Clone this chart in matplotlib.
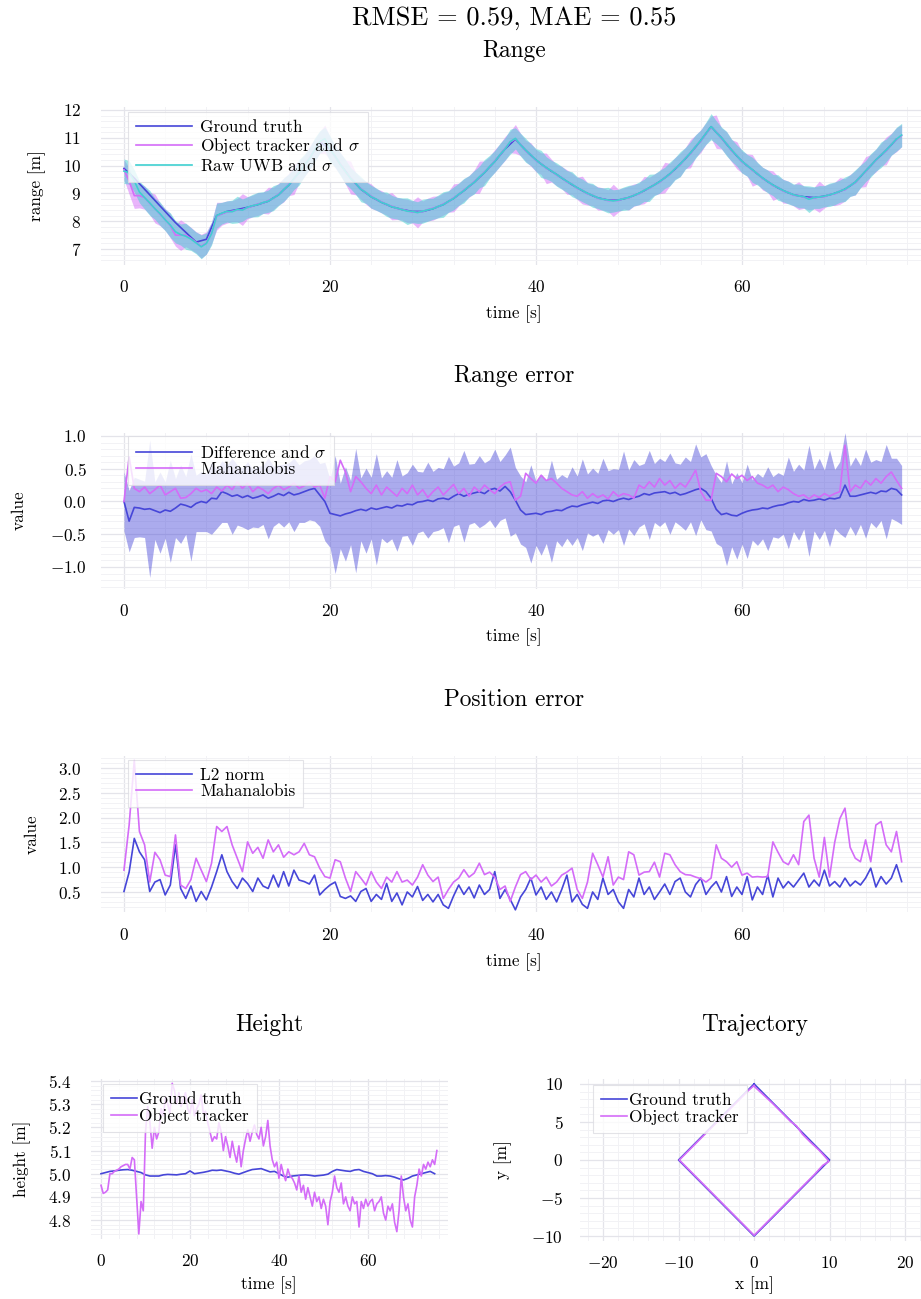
import numpy as np
import matplotlib
matplotlib.use('Agg')
import matplotlib.pyplot as plt
from matplotlib.ticker import MultipleLocator, AutoMinorLocator

plt.rcParams['font.family'] = 'cmr10'
plt.rcParams['mathtext.fontset'] = 'cm'
plt.rcParams['axes.formatter.use_mathtext'] = True

# ---------------- data ----------------
t_half = np.arange(152) * 0.5      # 0 .. 75.5 s, 0.5 s samples
t_one = np.arange(76) * 1.0        # 0 .. 75 s, 1 s samples

gt_range = [9.90, 9.55, 9.15, 8.75, 8.35, 7.95, 7.60, 7.25, 7.35, 8.20,
            8.35, 8.42, 8.50, 8.60, 8.72, 8.95, 9.30, 9.75, 10.25, 10.85,
            10.60, 10.05, 9.55, 9.15, 8.88, 8.68, 8.52, 8.42, 8.35, 8.35,
            8.45, 8.60, 8.82, 9.10, 9.40, 9.75, 10.15, 10.60, 10.95, 10.55,
            10.20, 9.92, 9.68, 9.43, 9.20, 9.00, 8.84, 8.76, 8.76, 8.85,
            9.00, 9.20, 9.42, 9.70, 10.05, 10.45, 10.90, 11.40, 11.00, 10.55,
            10.15, 9.85, 9.55, 9.30, 9.10, 8.95, 8.88, 8.85, 8.90, 9.00,
            9.15, 9.40, 9.80, 10.20, 10.55, 10.95]

uwb_range = [9.80, 9.75, 9.45, 9.05, 8.85, 8.66, 8.45, 8.27, 8.05, 7.86,
             7.62, 7.52, 7.46, 7.36, 7.22, 7.08, 7.20, 7.55, 8.20, 8.29,
             8.35, 8.34, 8.42, 8.40, 8.50, 8.56, 8.60, 8.67, 8.72, 8.83,
             8.95, 9.13, 9.30, 9.52, 9.76, 10.00, 10.25, 10.56, 10.85, 10.97,
             10.60, 10.33, 10.05, 9.78, 9.55, 9.36, 9.15, 9.03, 8.88, 8.79,
             8.68, 8.61, 8.52, 8.47, 8.42, 8.36, 8.35, 8.31, 8.36, 8.41,
             8.45, 8.53, 8.60, 8.71, 8.82, 8.97, 9.10, 9.26, 9.40, 9.59,
             9.75, 9.96, 10.15, 10.39, 10.60, 10.86, 10.98, 10.75, 10.55, 10.39,
             10.20, 10.06, 9.92, 9.81, 9.68, 9.56, 9.43, 9.33, 9.20, 9.11,
             9.00, 8.93, 8.84, 8.79, 8.76, 8.73, 8.76, 8.81, 8.85, 8.93,
             9.00, 9.11, 9.20, 9.31, 9.42, 9.56, 9.70, 9.89, 10.05, 10.26,
             10.45, 10.69, 10.90, 11.16, 11.40, 11.20, 11.00, 10.79, 10.55, 10.36,
             10.15, 10.01, 9.85, 9.71, 9.55, 9.43, 9.30, 9.21, 9.10, 9.03,
             8.95, 8.91, 8.88, 8.79, 8.85, 8.87, 8.90, 8.95, 9.00, 9.08,
             9.15, 9.28, 9.40, 9.61, 9.80, 10.01, 10.20, 10.39, 10.55, 10.76,
             10.95, 11.10]

uwb_sigma = [0.44, 0.42, 0.40, 0.39, 0.41, 0.45, 0.38, 0.42, 0.39, 0.44,
             0.40, 0.38, 0.47, 0.41, 0.39, 0.43, 0.38, 0.41, 0.45, 0.39,
             0.38, 0.42, 0.48, 0.40, 0.38, 0.41, 0.44, 0.39, 0.40, 0.45,
             0.39, 0.42, 0.40, 0.38, 0.46, 0.40, 0.39, 0.43, 0.40, 0.41,
             0.47, 0.39, 0.41, 0.44, 0.38, 0.40, 0.45, 0.39, 0.41, 0.40,
             0.38, 0.44, 0.41, 0.39, 0.42, 0.48, 0.40, 0.39, 0.43, 0.41,
             0.38, 0.41, 0.46, 0.39, 0.41, 0.40, 0.44, 0.38, 0.42, 0.39,
             0.47, 0.41, 0.39, 0.41, 0.40, 0.45, 0.38, 0.41, 0.43, 0.39,
             0.41, 0.49, 0.40, 0.38, 0.42, 0.41, 0.39, 0.45, 0.40, 0.41,
             0.39, 0.43, 0.38, 0.41, 0.46, 0.40, 0.39, 0.42, 0.44, 0.38,
             0.41, 0.40, 0.49, 0.39, 0.41, 0.38, 0.43, 0.40, 0.45, 0.39,
             0.41, 0.42, 0.38, 0.40, 0.47, 0.41, 0.39, 0.44, 0.40, 0.38,
             0.42, 0.39, 0.45, 0.41, 0.39, 0.41, 0.38, 0.46, 0.40, 0.41,
             0.39, 0.43, 0.40, 0.48, 0.39, 0.41, 0.38, 0.42, 0.41, 0.40,
             0.44, 0.39, 0.45, 0.41, 0.38, 0.42, 0.40, 0.46, 0.41, 0.39,
             0.43, 0.42]

trk_range = [9.85, 9.45, 8.92, 8.92, 8.85, 8.64, 8.46, 8.25, 8.06, 7.84,
             7.50, 7.50, 7.50, 7.38, 7.24, 7.10, 7.22, 7.58, 8.18, 8.27,
             8.33, 8.36, 8.40, 8.42, 8.48, 8.55, 8.62, 8.66, 8.74, 8.82,
             8.97, 9.12, 9.32, 9.50, 9.78, 9.98, 10.27, 10.55, 10.83, 10.95,
             10.62, 10.31, 10.07, 9.77, 9.57, 9.35, 9.17, 9.02, 8.90, 8.78,
             8.70, 8.60, 8.54, 8.46, 8.43, 8.37, 8.33, 8.32, 8.35, 8.42,
             8.47, 8.52, 8.62, 8.70, 8.84, 8.96, 9.12, 9.25, 9.42, 9.58,
             9.77, 9.95, 10.17, 10.38, 10.62, 10.85, 10.96, 10.76, 10.53, 10.40,
             10.18, 10.07, 9.90, 9.82, 9.66, 9.57, 9.41, 9.34, 9.18, 9.12,
             8.98, 8.94, 8.82, 8.80, 8.74, 8.75, 8.74, 8.82, 8.83, 8.94,
             8.98, 9.12, 9.18, 9.32, 9.40, 9.57, 9.68, 9.90, 10.03, 10.27,
             10.43, 10.70, 10.88, 11.15, 11.38, 11.22, 10.98, 10.80, 10.53, 10.37,
             10.13, 10.02, 9.83, 9.72, 9.53, 9.44, 9.28, 9.22, 9.08, 9.04,
             8.93, 8.92, 8.86, 8.82, 8.83, 8.88, 8.88, 8.96, 8.98, 9.09,
             9.13, 9.29, 9.38, 9.62, 9.78, 10.02, 10.18, 10.40, 10.53, 10.77,
             10.93, 11.08]

trk_sigma = [0.36, 0.48, 0.46, 0.44, 0.42, 0.40, 0.52, 0.41, 0.39, 0.44,
             0.40, 0.55, 0.42, 0.40, 0.38, 0.43, 0.40, 0.39, 0.50, 0.41,
             0.40, 0.38, 0.42, 0.57, 0.40, 0.39, 0.41, 0.38, 0.48, 0.40,
             0.39, 0.43, 0.40, 0.54, 0.40, 0.38, 0.42, 0.40, 0.39, 0.51,
             0.41, 0.39, 0.40, 0.43, 0.59, 0.40, 0.38, 0.41, 0.44, 0.39,
             0.40, 0.38, 0.49, 0.40, 0.39, 0.42, 0.40, 0.56, 0.38, 0.41,
             0.43, 0.39, 0.40, 0.38, 0.50, 0.41, 0.40, 0.39, 0.42, 0.58,
             0.40, 0.38, 0.41, 0.40, 0.43, 0.39, 0.52, 0.40, 0.38, 0.42,
             0.40, 0.39, 0.55, 0.41, 0.38, 0.40, 0.44, 0.39, 0.40, 0.50,
             0.40, 0.38, 0.42, 0.40, 0.39, 0.58, 0.41, 0.38, 0.43, 0.40,
             0.39, 0.49, 0.40, 0.38, 0.41, 0.55, 0.40, 0.39, 0.42, 0.38,
             0.51, 0.40, 0.41, 0.39, 0.40, 0.60, 0.38, 0.42, 0.40, 0.49,
             0.39, 0.40, 0.57, 0.38, 0.41, 0.40, 0.53, 0.39, 0.43, 0.40,
             0.38, 0.50, 0.40, 0.41, 0.39, 0.56, 0.40, 0.38, 0.42, 0.48,
             0.40, 0.39, 0.44, 0.40, 0.54, 0.38, 0.41, 0.40, 0.50, 0.39,
             0.43, 0.40]

range_diff = [0.00, -0.30, -0.09, -0.10, -0.12, -0.11, -0.14, -0.17, -0.13, -0.15,
              -0.10, -0.04, -0.06, -0.09, -0.03, 0.00, -0.02, 0.05, 0.04, 0.15,
              0.12, 0.08, 0.10, 0.06, 0.09, 0.05, 0.07, 0.10, 0.05, 0.08,
              0.12, 0.09, 0.14, 0.10, 0.12, 0.15, 0.18, 0.20, 0.10, 0.00,
              -0.18, -0.20, -0.22, -0.19, -0.17, -0.14, -0.12, -0.14, -0.10, -0.12,
              -0.10, -0.08, -0.10, -0.06, -0.07, -0.04, -0.05, -0.01, 0.00, 0.02,
              0.00, 0.04, 0.05, 0.03, 0.08, 0.12, 0.08, 0.11, 0.13, 0.15,
              0.12, 0.18, 0.20, 0.16, 0.23, 0.15, 0.02, -0.13, -0.20, -0.19,
              -0.18, -0.20, -0.16, -0.15, -0.13, -0.14, -0.10, -0.07, -0.08, -0.05,
              -0.03, -0.01, -0.03, 0.01, 0.02, 0.00, 0.03, 0.05, 0.03, 0.06,
              0.08, 0.12, 0.10, 0.13, 0.14, 0.15, 0.12, 0.14, 0.10, 0.12,
              0.15, 0.18, 0.20, 0.15, 0.05, -0.12, -0.20, -0.18, -0.21, -0.22,
              -0.18, -0.15, -0.13, -0.12, -0.10, -0.11, -0.08, -0.06, -0.05, -0.02,
              0.00, -0.01, 0.03, 0.01, 0.02, 0.04, 0.02, 0.05, 0.04, 0.06,
              0.25, 0.08, 0.08, 0.10, 0.12, 0.14, 0.12, 0.16, 0.15, 0.20,
              0.18, 0.10]

diff_sigma = [0.45, 0.47, 0.46, 0.44, 0.43, 1.05, 0.44, 0.62, 0.43, 0.78,
              0.45, 0.60, 0.44, 0.82, 0.43, 0.46, 0.44, 0.55, 0.45, 0.47,
              0.44, 0.58, 0.46, 0.45, 0.52, 0.44, 0.47, 0.45, 0.62, 0.46,
              0.44, 0.48, 0.45, 0.56, 0.44, 0.47, 0.46, 0.50, 0.48, 0.60,
              0.52, 0.90, 0.50, 0.72, 0.49, 0.95, 0.48, 0.65, 0.47, 0.85,
              0.46, 0.55, 0.47, 0.70, 0.46, 0.48, 0.62, 0.47, 0.45, 0.58,
              0.46, 0.48, 0.45, 0.66, 0.46, 0.47, 0.70, 0.46, 0.45, 0.55,
              0.47, 0.46, 0.60, 0.45, 0.48, 0.68, 0.50, 0.52, 0.50, 0.75,
              0.49, 0.62, 0.48, 0.78, 0.47, 0.55, 0.46, 0.60, 0.47, 0.70,
              0.45, 0.52, 0.46, 0.65, 0.45, 0.50, 0.46, 0.72, 0.45, 0.58,
              0.47, 0.46, 0.68, 0.45, 0.52, 0.46, 0.62, 0.45, 0.47, 0.56,
              0.46, 0.70, 0.48, 0.58, 0.50, 0.52, 0.49, 0.80, 0.48, 0.66,
              0.47, 0.72, 0.46, 0.55, 0.47, 0.64, 0.46, 0.50, 0.45, 0.70,
              0.46, 0.58, 0.45, 0.85, 0.47, 0.62, 0.46, 0.74, 0.45, 0.55,
              0.80, 0.46, 0.60, 0.45, 0.68, 0.46, 0.52, 0.45, 0.72, 0.46,
              0.48, 0.45]

range_mahal = [0.00, 0.68, 0.20, 0.15, 0.22, 0.12, 0.18, 0.25, 0.10, 0.15,
               0.20, 0.05, 0.06, 0.12, 0.20, 0.15, 0.18, 0.12, 0.22, 0.16,
               0.25, 0.18, 0.30, 0.20, 0.28, 0.15, 0.22, 0.18, 0.12, 0.20,
               0.25, 0.18, 0.22, 0.28, 0.20, 0.24, 0.30, 0.22, 0.25, 0.05,
               0.38, 0.30, 0.63, 0.45, 0.15, 0.38, 0.30, 0.20, 0.12, 0.25,
               0.10, 0.22, 0.15, 0.08, 0.20, 0.12, 0.25, 0.10, 0.18, 0.06,
               0.15, 0.22, 0.10, 0.18, 0.26, 0.12, 0.20, 0.08, 0.22, 0.15,
               0.25, 0.18, 0.12, 0.22, 0.28, 0.30, 0.02, 0.08, 0.43, 0.35,
               0.28, 0.40, 0.32, 0.35, 0.28, 0.20, 0.15, 0.10, 0.08, 0.15,
               0.05, 0.12, 0.06, 0.10, 0.04, 0.15, 0.08, 0.12, 0.10, 0.05,
               0.25, 0.20, 0.30, 0.22, 0.35, 0.25, 0.32, 0.20, 0.28, 0.22,
               0.34, 0.48, 0.15, 0.02, 0.02, 0.43, 0.38, 0.30, 0.42, 0.35,
               0.40, 0.32, 0.38, 0.28, 0.25, 0.20, 0.25, 0.15, 0.22, 0.18,
               0.12, 0.08, 0.10, 0.04, 0.10, 0.06, 0.12, 0.08, 0.12, 0.15,
               0.86, 0.15, 0.25, 0.20, 0.32, 0.25, 0.35, 0.28, 0.38, 0.45,
               0.32, 0.20]

pos_l2 = [0.51, 0.90, 1.58, 1.31, 1.15, 0.51, 0.70, 0.75, 0.44, 0.64,
          1.45, 0.57, 0.37, 0.62, 0.31, 0.51, 0.34, 0.60, 0.91, 1.25,
          0.91, 0.71, 0.57, 0.78, 0.67, 0.51, 0.78, 0.62, 0.57, 0.84,
          0.60, 0.91, 0.62, 0.94, 0.74, 0.71, 0.66, 0.84, 0.44, 0.55,
          0.64, 0.70, 0.41, 0.37, 0.42, 0.31, 0.51, 0.57, 0.31, 0.45,
          0.35, 0.67, 0.31, 0.48, 0.24, 0.50, 0.40, 0.61, 0.33, 0.45,
          0.30, 0.45, 0.24, 0.17, 0.42, 0.64, 0.45, 0.60, 0.38, 0.64,
          0.45, 0.55, 0.91, 0.37, 0.55, 0.35, 0.14, 0.40, 0.55, 0.78,
          0.44, 0.60, 0.35, 0.50, 0.30, 0.55, 0.84, 0.30, 0.45, 0.25,
          0.17, 0.50, 0.35, 0.78, 0.45, 0.55, 0.30, 0.17, 0.55, 0.40,
          0.78, 0.45, 0.60, 0.35, 0.50, 0.66, 0.45, 0.71, 0.78, 0.50,
          0.40, 0.65, 0.78, 0.45, 0.60, 0.71, 0.50, 0.81, 0.41, 0.60,
          0.45, 0.81, 0.34, 0.60, 0.45, 0.84, 0.40, 0.78, 0.58, 0.71,
          0.60, 0.74, 0.88, 0.60, 0.74, 0.62, 0.94, 0.62, 0.71, 0.60,
          0.78, 0.62, 0.72, 0.64, 0.78, 0.98, 0.60, 0.81, 0.66, 0.78,
          1.05, 0.71]

pos_mahal = [0.94, 1.85, 3.15, 1.72, 1.45, 0.70, 1.30, 1.15, 0.84, 0.81,
             1.65, 0.64, 0.57, 0.75, 1.18, 0.94, 0.71, 1.08, 1.82, 1.72,
             1.82, 1.45, 1.18, 0.91, 1.51, 1.28, 1.40, 1.18, 1.55, 1.31,
             1.45, 1.20, 1.31, 1.25, 1.31, 1.48, 1.25, 1.21, 0.98, 0.81,
             0.78, 1.15, 1.11, 0.78, 0.51, 0.91, 0.78, 0.64, 0.91, 0.70,
             0.57, 0.80, 0.70, 0.91, 0.70, 0.74, 0.64, 0.80, 1.05, 0.84,
             0.71, 0.80, 0.37, 0.55, 0.70, 0.78, 0.95, 0.80, 0.88, 1.08,
             0.85, 0.90, 0.80, 0.55, 0.62, 0.31, 0.60, 0.85, 0.91, 0.75,
             0.84, 0.70, 0.80, 0.62, 0.70, 0.84, 0.90, 0.98, 0.55, 0.37,
             0.70, 1.28, 1.05, 0.80, 1.21, 0.64, 0.80, 0.75, 1.31, 1.25,
             0.84, 0.90, 0.91, 1.10, 0.80, 1.28, 1.25, 1.05, 0.91, 0.85,
             0.84, 0.80, 0.77, 0.70, 0.78, 1.45, 1.18, 1.11, 1.00, 1.11,
             0.84, 0.88, 0.80, 0.81, 0.80, 0.81, 1.51, 1.30, 1.11, 1.05,
             1.25, 1.05, 1.92, 2.05, 1.18, 0.80, 1.60, 0.80, 1.50, 1.98,
             2.19, 1.40, 1.18, 1.11, 1.55, 1.11, 1.85, 1.92, 1.45, 1.31,
             1.72, 1.11]

gt_height = [5.000, 5.005, 5.010, 5.012, 5.015, 5.017, 5.018, 5.015, 5.010, 5.005,
             4.995, 4.990, 4.990, 4.990, 4.995, 4.997, 4.996, 4.995, 4.998, 5.000,
             5.012, 5.000, 5.003, 5.006, 5.010, 5.015, 5.014, 5.016, 5.012, 5.008,
             5.002, 4.998, 5.005, 5.012, 5.018, 5.020, 5.022, 5.015, 5.008, 5.010,
             5.000, 4.990, 4.985, 4.990, 4.992, 4.994, 4.995, 4.993, 4.990, 4.992,
             4.994, 4.998, 5.010, 5.018, 5.015, 5.012, 5.010, 5.016, 5.018, 5.010,
             5.005, 5.000, 4.990, 4.990, 4.992, 4.990, 4.985, 4.978, 4.973, 4.980,
             4.990, 4.995, 5.000, 5.005, 5.010, 5.000]

trk_height = [4.95, 4.915, 4.92, 4.93, 5.00, 5.00, 5.01, 5.015, 5.02, 5.03,
              5.035, 5.04, 5.04, 5.02, 5.07, 5.06, 4.90, 4.74, 4.88, 4.84,
              5.18, 5.29, 5.22, 5.11, 5.20, 5.15, 5.18, 5.28, 5.25, 5.33,
              5.30, 5.26, 5.39, 5.36, 5.30, 5.35, 5.29, 5.32, 5.35, 5.28,
              5.26, 5.32, 5.25, 5.28, 5.30, 5.34, 5.26, 5.27, 5.22, 5.18,
              5.14, 5.16, 5.15, 5.22, 5.18, 5.10, 5.16, 5.12, 5.07, 5.14,
              5.09, 5.05, 5.12, 5.03, 5.10, 5.15, 5.19, 5.14, 5.18, 5.21,
              5.17, 5.15, 5.20, 5.12, 5.16, 5.23, 5.12, 5.06, 5.03, 5.05,
              4.98, 5.04, 5.00, 4.97, 5.02, 4.99, 4.98, 4.96, 4.93, 4.99,
              4.92, 4.95, 4.89, 4.94, 4.90, 4.86, 4.92, 4.88, 4.90, 4.85,
              4.89, 4.86, 4.78, 4.88, 4.92, 4.99, 4.94, 4.92, 4.96, 4.87,
              4.90, 4.86, 4.84, 4.90, 4.87, 4.88, 4.77, 4.88, 4.85, 4.89,
              4.86, 4.88, 4.89, 4.84, 4.87, 4.88, 4.90, 4.83, 4.80, 4.86,
              4.84, 4.87, 4.79, 4.75, 4.84, 4.99, 4.90, 4.84, 4.87, 4.80,
              4.77, 4.90, 4.95, 5.02, 4.99, 5.04, 5.02, 5.05, 5.03, 5.06,
              5.04, 5.10]

gt_traj_x = [0, 10, 0, -10, 0]
gt_traj_y = [10, 0, -10, 0, 10]
trk_traj_x = [0.0, 1.2, 2.5, 3.6, 4.9, 5.6, 6.4, 7.5, 8.6, 9.7,
              9.9, 9.1, 8.0, 6.9, 5.6, 4.3, 3.0, 1.8, 0.6, 0.0,
              -0.9, -2.0, -3.3, -4.6, -5.9, -7.1, -8.3, -9.5, -9.9, -9.4,
              -8.2, -7.0, -5.8, -4.6, -3.3, -2.0, -0.8, 0.0]
trk_traj_y = [9.7, 8.6, 7.4, 6.3, 5.0, 4.5, 3.4, 2.3, 1.3, 0.1,
              -0.2, -0.7, -1.9, -3.0, -4.3, -5.6, -6.9, -8.1, -9.3, -9.9,
              -9.0, -7.9, -6.6, -5.3, -4.0, -2.8, -1.6, -0.4, 0.0, 0.5,
              1.7, 2.9, 4.1, 5.3, 6.6, 7.9, 9.1, 9.8]

# ---------------- styling ----------------
BLUE = '#4646d8'
VIOLET = '#d46cf8'
TURQ = '#3ecfd0'
W, H = 921, 1299
FS = 12.4

fig = plt.figure(figsize=(W / 100, H / 100), dpi=100)


def px_axes(x0, y0, x1, y1):
    return fig.add_axes([x0 / W, 1 - y1 / H, (x1 - x0) / W, (y1 - y0) / H])


def style(ax, xmaj, ymaj, ypad=14):
    ax.xaxis.set_major_locator(MultipleLocator(xmaj))
    ax.yaxis.set_major_locator(MultipleLocator(ymaj))
    ax.xaxis.set_minor_locator(AutoMinorLocator(5))
    ax.yaxis.set_minor_locator(AutoMinorLocator(5))
    ax.grid(True, which='major', color='#e4e4ea', lw=0.9)
    ax.grid(True, which='minor', color='#f2f2f5', lw=0.7)
    ax.set_axisbelow(True)
    for s in ax.spines.values():
        s.set_visible(False)
    ax.tick_params(which='both', length=0, labelsize=FS)
    ax.tick_params(axis='x', pad=10.5)
    ax.tick_params(axis='y', pad=ypad)


def legend(ax, x, y, hl=3.25, htp=0.5):
    leg = ax.legend(loc='upper left', bbox_to_anchor=(x / W, 1 - y / H),
                    bbox_transform=fig.transFigure, borderaxespad=0,
                    fontsize=FS, handlelength=hl, handletextpad=htp,
                    labelspacing=0.05, borderpad=0.45, fancybox=False,
                    framealpha=0.8, edgecolor='#dcdce2')
    leg.get_frame().set_linewidth(0.8)


def ftext(x, y, s, size=FS, rot=0):
    fig.text(x / W, 1 - y / H, s, ha='center', va='center', fontsize=size, rotation=rot)


LW = 1.2

# Range
ax1 = px_axes(100.6, 107.2, W, 264.6)
ax1.plot(t_one, gt_range, color=BLUE, lw=LW, label='Ground truth')
trk = np.array(trk_range)
trs = np.array(trk_sigma)
ax1.fill_between(t_half, trk - trs, trk + trs, color=VIOLET, alpha=0.5, lw=0)
ax1.plot(t_half, trk, color=VIOLET, lw=LW, label=r'Object tracker and $\sigma$')
uwb = np.array(uwb_range)
uws = np.array(uwb_sigma)
ax1.fill_between(t_half, uwb - uws, uwb + uws, color=TURQ, alpha=0.5, lw=0)
ax1.plot(t_half, uwb, color=TURQ, lw=LW, label=r'Raw UWB and $\sigma$')
ax1.set_xlim(-2.27, 77.38)
ax1.set_ylim(6.44, 12.1)
style(ax1, 20, 1)
legend(ax1, 128, 112)

# Range error
ax2 = px_axes(100.6, 432.7, W, 588.6)
rd = np.array(range_diff)
ds = np.array(diff_sigma)
ax2.fill_between(t_half, rd - ds, rd + ds, color=BLUE, alpha=0.45, lw=0)
ax2.plot(t_half, rd, color=BLUE, lw=LW, label=r'Difference and $\sigma$')
ax2.plot(t_half, range_mahal, color=VIOLET, lw=LW, label='Mahanalobis')
ax2.set_xlim(-2.27, 77.38)
ax2.set_ylim(-1.33, 1.05)
style(ax2, 20, 0.5, ypad=10)
legend(ax2, 128, 436)

# Position error
ax3 = px_axes(100.6, 756.1, W, 912.3)
ax3.plot(t_half, pos_l2, color=BLUE, lw=LW, label='L2 norm')
ax3.plot(t_half, pos_mahal, color=VIOLET, lw=LW, label='Mahanalobis')
ax3.set_xlim(-2.27, 77.38)
ax3.set_ylim(0.09, 3.24)
style(ax3, 20, 0.5)
legend(ax3, 128, 760)

# Height
ax4 = px_axes(91, 1078.7, 448, 1238.6)
ax4.plot(t_one, gt_height, color=BLUE, lw=LW, label='Ground truth')
ax4.plot(t_half, trk_height, color=VIOLET, lw=LW, label='Object tracker')
ax4.set_xlim(-2.25, 78.0)
ax4.set_ylim(4.72, 5.41)
style(ax4, 20, 0.1)
legend(ax4, 103, 1084, hl=1.55, htp=0.1)

# Trajectory
ax5 = px_axes(580, 1079.4, W, 1240.6)
ax5.plot(gt_traj_x, gt_traj_y, color=BLUE, lw=LW, label='Ground truth')
ax5.plot(trk_traj_x, trk_traj_y, color=VIOLET, lw=LW, label='Object tracker')
ax5.set_xlim(-23.05, 22.1)
ax5.set_ylim(-10.6, 10.6)
style(ax5, 10, 5, ypad=12)
legend(ax5, 593, 1085, hl=1.55, htp=0.1)

# titles and axis labels
ftext(514, 18, 'RMSE = 0.59, MAE = 0.55', size=19)
ftext(514, 51, 'Range', size=16.8)
ftext(514, 376, 'Range error', size=16.8)
ftext(514, 700, 'Position error', size=16.8)
ftext(269, 1025, 'Height', size=16.8)
ftext(755, 1025, 'Trajectory', size=16.8)

ftext(514, 314, 'time [s]')
ftext(514, 637, 'time [s]')
ftext(514, 962, 'time [s]')
ftext(269, 1285, 'time [s]')
ftext(754, 1285, 'x [m]')
ftext(37, 186, 'range [m]', rot=90)
ftext(19, 510, 'value', rot=90)
ftext(32, 834, 'value', rot=90)
ftext(22, 1159, 'height [m]', rot=90)
ftext(503, 1160, 'y [m]', rot=90)

fig.savefig('out.png', dpi=100)
